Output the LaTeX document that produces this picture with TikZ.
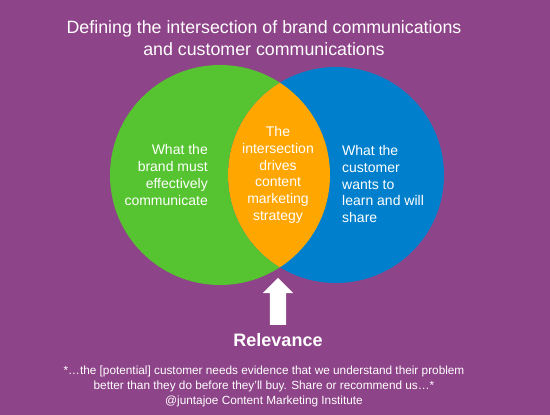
\documentclass[tikz,border=0pt]{standalone}
\usepackage{fontspec}
\setmainfont{Liberation Sans}
\usetikzlibrary{positioning,shapes.arrows}
\definecolor{bgpurple}{RGB}{142,68,136}
\definecolor{brandgreen}{RGB}{86,196,48}
\definecolor{custblue}{RGB}{0,128,204}
\definecolor{midorange}{RGB}{255,166,0}

\begin{document}
\begin{tikzpicture}[x=1pt, y=-1pt, font=\fontsize{14}{16.7}\selectfont, text=white]
	\tikzstyle{ring} = [circle, inner sep=0pt]
	\tikzstyle{txt} = [inner sep=0pt, text=white]
	
	\fill[bgpurple] (0,0) rectangle (550,415);
	\useasboundingbox (0,0) rectangle (550,415);
	
	\node[txt, align=center, font=\fontsize{17.8}{21.5}\selectfont] (title) at (264,38) {Defining the intersection of brand communications\\and customer communications};
	
	\node[ring, fill=brandgreen, minimum size=220pt] (brand) at (220,175) {};
	\node[ring, fill=custblue, minimum size=216pt] (customer) at (336,175) {};
	\begin{scope}
		\clip (220,175) circle (110);
		\fill[midorange] (336,175) circle (108);
	\end{scope}
	
	\node[txt, align=right, anchor=east] (brandtxt) at (208,175) {What the\\brand must\\effectively\\communicate};
	\node[txt, align=center] (midtxt) at (278,175) {The\\intersection\\drives\\content\\marketing\\strategy};
	\node[txt, align=left, anchor=west] (custtxt) at (342,184) {What the\\customer\\wants to\\learn and will\\share};
	
	\node[txt, font=\fontsize{18}{20}\selectfont\bfseries] (relevance) at (278,340) {Relevance};
	\node[single arrow, fill=white, rotate=90, minimum height=47pt, minimum width=30pt, single arrow head extend=7pt, single arrow head indent=0pt, inner sep=8pt, anchor=tail] (arrow) at (278,325) {};
	
	\node[txt, align=center, font=\fontsize{11.8}{15}\selectfont] (quote) at (264,386) {*\ldots the [potential] customer needs evidence that we understand their problem\\better than they do before they'll buy. Share or recommend us\ldots *\\@juntajoe Content Marketing Institute};
\end{tikzpicture}
\end{document}
